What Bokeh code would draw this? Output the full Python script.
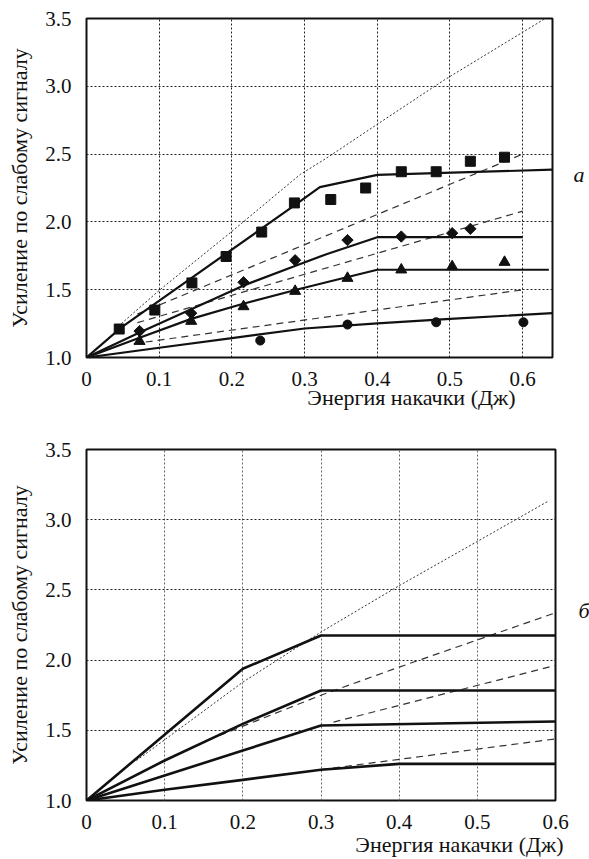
from bokeh.plotting import figure
from bokeh.layouts import column, row
from bokeh.models import Range1d, FixedTicker, CustomJSTickFormatter, Label, Title
from bokeh.embed import file_html
from bokeh.resources import INLINE

FONT = "Liberation Serif, Times New Roman, Times, serif"

# ---------------- Panel a data ----------------
sq_x = [0.045, 0.094, 0.145, 0.192, 0.241, 0.286, 0.336, 0.384, 0.433, 0.481, 0.528, 0.575]
sq_y = [1.21, 1.35, 1.55, 1.745, 1.925, 2.14, 2.165, 2.25, 2.37, 2.37, 2.447, 2.477]
dia_x = [0.073, 0.144, 0.216, 0.287, 0.359, 0.433, 0.503, 0.528]
dia_y = [1.195, 1.327, 1.555, 1.717, 1.866, 1.892, 1.917, 1.949]
tri_x = [0.073, 0.144, 0.216, 0.287, 0.359, 0.433, 0.503, 0.575]
tri_y = [1.12, 1.268, 1.376, 1.489, 1.585, 1.647, 1.671, 1.703]
circ_x = [0.239, 0.359, 0.481, 0.601]
circ_y = [1.125, 1.243, 1.26, 1.26]

a_l1_x = [0, 0.048, 0.287, 0.321, 0.4, 0.641]
a_l1_y = [1.0, 1.222, 2.125, 2.256, 2.347, 2.385]
a_l2_x = [0, 0.073, 0.144, 0.2155, 0.294, 0.33, 0.4, 0.6]
a_l2_y = [1.0, 1.185, 1.355, 1.53, 1.69, 1.762, 1.887, 1.887]
a_l3_x = [0, 0.073, 0.144, 0.2155, 0.294, 0.33, 0.4, 0.636]
a_l3_y = [1.0, 1.145, 1.285, 1.396, 1.507, 1.555, 1.647, 1.647]
a_l4_x = [0, 0.1, 0.2, 0.3, 0.4, 0.5, 0.641]
a_l4_y = [1.0, 1.072, 1.143, 1.214, 1.252, 1.285, 1.327]

a_dot_x = [0.048, 0.1, 0.2, 0.294, 0.33, 0.4, 0.491, 0.631]
a_dot_y = [1.25, 1.495, 1.93, 2.35, 2.47, 2.72, 3.043, 3.5]
a_d1_x = [0.07, 0.6]
a_d1_y = [1.32, 2.50]
a_d2_x = [0.07, 0.6]
a_d2_y = [1.257, 2.079]
a_d3_x = [0.065, 0.6]
a_d3_y = [1.102, 1.499]

# ---------------- Panel b data ----------------
b_s1_x = [0, 0.2, 0.3, 0.6]
b_s1_y = [1.0, 1.938, 2.175, 2.175]
b_s2_x = [0, 0.1, 0.2, 0.3, 0.6]
b_s2_y = [1.0, 1.285, 1.546, 1.783, 1.783]
b_s3_x = [0, 0.1, 0.2, 0.3, 0.6]
b_s3_y = [1.0, 1.178, 1.356, 1.534, 1.563]
b_s4_x = [0, 0.1, 0.2, 0.3, 0.4, 0.6]
b_s4_y = [1.0, 1.076, 1.147, 1.219, 1.261, 1.261]

b_dot_x = [0.064, 0.2, 0.3, 0.4, 0.5, 0.59]
b_dot_y = [1.285, 1.843, 2.2, 2.53, 2.845, 3.13]
b_d1_x = [0.17, 0.3, 0.4, 0.6]
b_d1_y = [1.463, 1.75, 1.95, 2.337]
b_d2_x = [0.316, 0.6]
b_d2_y = [1.558, 1.962]
b_d3_x = [0.3, 0.6]
b_d3_y = [1.22, 1.439]

x_ticks = [0, 0.1, 0.2, 0.3, 0.4, 0.5, 0.6]
y_ticks = [1.0, 1.5, 2.0, 2.5, 3.0, 3.5]
x_grid = [0.1, 0.2, 0.3, 0.4, 0.5, 0.6]
y_grid = [1.5, 2.0, 2.5, 3.0]

Y_TITLE = "Усиление по слабому сигналу"
X_TITLE = "Энергия накачки (Дж)"
PANEL_A = "а"
PANEL_B = "б"

INK = "#111111"


def make_panel(xmax, frame_w, frame_h, top, bottom, right, xgrid, vgrid_color,
               title_offset, title_standoff):
    p = figure(frame_width=frame_w, frame_height=frame_h,
               min_border_left=86, min_border_top=top,
               min_border_bottom=bottom, min_border_right=right,
               x_range=Range1d(0, xmax), y_range=Range1d(1.0, 3.5),
               output_backend="svg", toolbar_location=None)
    p.background_fill_color = "white"
    p.border_fill_color = "white"
    p.outline_line_color = INK
    p.outline_line_width = 2

    for ax in (p.xaxis[0], p.yaxis[0]):
        ax.axis_line_color = None
        ax.major_tick_line_color = None
        ax.minor_tick_line_color = None
        ax.major_label_text_font = FONT
        ax.major_label_text_font_size = "21px"
        ax.major_label_text_color = INK

    p.xaxis.ticker = FixedTicker(ticks=x_ticks)
    p.yaxis.ticker = FixedTicker(ticks=y_ticks)
    p.xaxis.formatter = CustomJSTickFormatter(code="return tick == 0 ? '0' : tick.toFixed(1);")
    p.yaxis.formatter = CustomJSTickFormatter(code="return tick.toFixed(1);")
    p.xaxis.major_label_standoff = 8
    p.yaxis.major_label_standoff = 9

    p.yaxis.axis_label = Y_TITLE
    p.yaxis.axis_label_text_font = FONT
    p.yaxis.axis_label_text_font_size = "22px"
    p.yaxis.axis_label_text_font_style = "normal"
    p.yaxis.axis_label_text_color = INK
    p.yaxis.axis_label_standoff = 10

    p.xgrid.ticker = FixedTicker(ticks=xgrid)
    p.ygrid.ticker = FixedTicker(ticks=y_grid)
    p.xgrid.grid_line_color = vgrid_color
    p.ygrid.grid_line_color = "#222222"
    for g in (p.xgrid[0], p.ygrid[0]):
        g.grid_line_dash = "2 2"
        g.grid_line_width = 1

    t = Title(text=X_TITLE, align="right", offset=title_offset, standoff=title_standoff,
              text_font=FONT, text_font_size="22px", text_font_style="normal",
              text_color=INK)
    p.add_layout(t, "below")
    return p


def make_side(w, h, text, x, y_from_top):
    s = figure(width=w, height=h, x_range=Range1d(0, w), y_range=Range1d(0, h),
               min_border=0, output_backend="svg", toolbar_location=None,
               x_axis_type=None, y_axis_type=None)
    s.outline_line_color = None
    s.background_fill_color = "white"
    s.border_fill_color = "white"
    s.add_layout(Label(x=x, y=h - y_from_top, text=text, text_font=FONT,
                       text_font_style="italic", text_font_size="22px",
                       text_align="left", text_baseline="middle", text_color=INK))
    return s


# ---------------- Panel a ----------------
pa = make_panel(0.641, 466, 339, 18, 63, 3, x_grid, "#222222", 37, -12)

pa.line(a_dot_x, a_dot_y, line_color="#333333", line_width=1, line_dash="2 2")
for xs, ys in ((a_d1_x, a_d1_y), (a_d2_x, a_d2_y), (a_d3_x, a_d3_y)):
    pa.line(xs, ys, line_color="#333333", line_width=1.2, line_dash="7 5")
for xs, ys in ((a_l1_x, a_l1_y), (a_l2_x, a_l2_y), (a_l3_x, a_l3_y), (a_l4_x, a_l4_y)):
    pa.line(xs, ys, line_color=INK, line_width=2.2)

pa.scatter(sq_x, sq_y, marker="square", size=10, color=INK)
pa.scatter(dia_x, dia_y, marker="square", size=8, angle=0.785398, color=INK)
pa.scatter(tri_x, tri_y, marker="triangle", size=11, color=INK)
pa.scatter(circ_x, circ_y, marker="circle", size=9, color=INK)

side_a = make_side(34, 420, PANEL_A, 18, 193)

# ---------------- Panel b ----------------
pb = make_panel(0.6, 469, 351, 29, 58, 15, x_grid[:-1], "#666666", -8, -3)

pb.line(b_dot_x, b_dot_y, line_color="#333333", line_width=1, line_dash="2 2")
for xs, ys in ((b_d1_x, b_d1_y), (b_d2_x, b_d2_y), (b_d3_x, b_d3_y)):
    pb.line(xs, ys, line_color="#333333", line_width=1.2, line_dash="7 5")
for xs, ys in ((b_s1_x, b_s1_y), (b_s2_x, b_s2_y), (b_s3_x, b_s3_y), (b_s4_x, b_s4_y)):
    pb.line(xs, ys, line_color=INK, line_width=2.6)

side_b = make_side(19, 438, PANEL_B, 8, 201)

layout = column(row(pa, side_a), row(pb, side_b))
open("out.html", "w").write(file_html(layout, INLINE))
